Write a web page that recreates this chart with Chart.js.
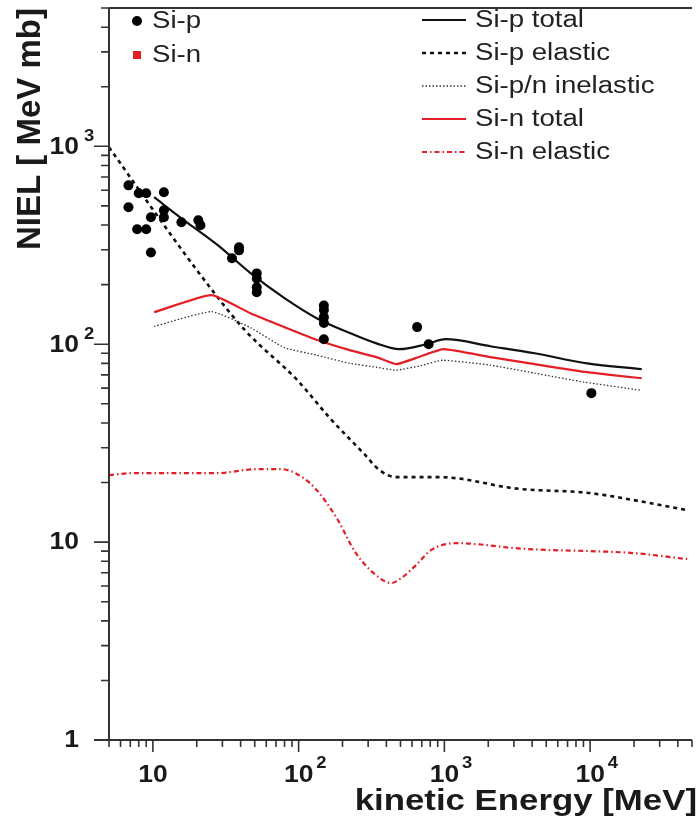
<!DOCTYPE html>
<html>
<head>
<meta charset="utf-8">
<script src="https://cdn.jsdelivr.net/npm/chart.js@4.4.1/dist/chart.umd.min.js"></script>
<style>
  html, body { margin: 0; padding: 0; background: #fff; }
</style>
</head>
<body>
<canvas id="niel" width="697" height="821"></canvas>
<script>
// Si-p measured points (energy in MeV, NIEL in MeV mb)
const siPEnergy = [6.8, 6.8, 8.0, 9.0, 7.8, 9.0, 9.7, 9.7, 11.9, 11.9, 11.9, 15.7, 20.5, 21.2, 34.9, 39, 39,
                   51.6, 51.6, 51.6, 51.6, 149, 149, 149, 149, 149, 650, 780, 10200];
const siPNiel = [635, 492, 579, 579, 381, 381, 438, 291, 586, 475, 438, 413, 423, 399, 272, 309, 298,
                 228, 215, 194, 183, 157, 149, 137, 128, 106, 122, 100, 56.6];
// Si-n measured points (only shown in the legend)
const siNEnergy = [];
const siNNiel = [];

// Si-p total
const pTotalE = [10.2, 15.7, 28, 47, 80, 134, 224, 342, 490, 750, 1020, 2070, 4170, 9550, 22600];
const pTotalNiel = [553, 433, 316, 228, 171, 135, 114, 101, 94.4, 100, 106, 97.7, 90, 80, 74.8];
// Si-p elastic
const pElasticE = [5, 19.6, 42.7, 98, 164, 279, 359, 468, 916, 1233, 3006, 9860, 24000, 46300];
const pElasticNiel = [988, 242, 118, 65.8, 42.3, 28.1, 23.1, 21.3, 21.3, 21.0, 18.7, 17.7, 15.9, 14.5];
// Si-p/n inelastic
const inelE = [10.2, 25.2, 47, 80, 134, 224, 342, 468, 690, 975, 2070, 4170, 9120, 22200];
const inelNiel = [123, 146, 121, 96, 88, 80, 76.5, 73.9, 78, 83, 78.3, 71.4, 64.3, 58.6];
// Si-n total
const nTotalE = [10.2, 25.2, 47, 80, 134, 224, 342, 468, 690, 990, 2070, 4170, 9550, 22600];
const nTotalNiel = [145, 177, 143, 122, 105, 93.3, 86, 79.3, 87, 94.4, 86, 79.3, 72.2, 67.3];
// Si-n elastic
const nElasticE = [5, 7.3, 14.1, 27.2, 52.5, 75.2, 95, 128, 183, 247, 353, 432, 506, 639, 809,
                   1233, 1660, 3006, 5445, 9860, 19900, 46300];
const nElasticNiel = [21.8, 22.3, 22.3, 22.3, 23.4, 23.4, 22.3, 18.9, 13.2, 8.8, 6.66, 6.21, 6.58, 7.65, 9.11,
                      9.88, 9.77, 9.33, 9.11, 9.01, 8.8, 8.21];

// axis labels
const xTickValues = [10, 100, 1000, 10000];
const xTickBase = ['10', '10', '10', '10'];
const xTickExp = ['', '2', '3', '4'];
const yTickValues = [1, 10, 100, 1000];
const yTickBase = ['1', '10', '10', '10'];
const yTickExp = ['', '', '2', '3'];

const RED = '#e41e26';
const FONT = "'Liberation Sans', Arial, sans-serif";

const toXY = (xs, ys) => xs.map((x, i) => ({ x: x, y: ys[i] }));

function stretchText(ctx, text, x, y, align, sx) {
    ctx.save();
    ctx.translate(x, y);
    ctx.scale(sx, 1);
    ctx.textAlign = align;
    ctx.fillText(text, 0, 0);
    ctx.restore();
    return ctx.measureText(text).width * sx;
}

// ROOT-like frame, ticks, labels and legend
const rootStyle = {
    id: 'rootStyle',
    afterDraw(chart) {
        const ctx = chart.ctx;
        const a = chart.chartArea;
        const xs = chart.scales.x, ys = chart.scales.y;
        ctx.save();
        ctx.strokeStyle = '#333';
        ctx.lineWidth = 2;
        ctx.beginPath();
        ctx.moveTo(a.left, a.top); ctx.lineTo(a.right, a.top);
        ctx.moveTo(a.left, a.top); ctx.lineTo(a.left, a.bottom);
        ctx.moveTo(a.left - 15, a.bottom); ctx.lineTo(a.right, a.bottom);
        ctx.stroke();

        // tick marks
        ctx.lineWidth = 1.6;
        ctx.beginPath();
        for (let d = 0; d <= 4; d++) {
            for (let m = 1; m <= 9; m++) {
                const v = m * Math.pow(10, d);
                if (v >= xs.min && v <= xs.max) {
                    const px = xs.getPixelForValue(v);
                    ctx.moveTo(px, a.bottom);
                    ctx.lineTo(px, a.bottom + (m === 1 ? 12 : 7));
                }
                if (v >= ys.min && v <= ys.max) {
                    const py = ys.getPixelForValue(v);
                    ctx.moveTo(a.left, py);
                    ctx.lineTo(a.left - (m === 1 ? 15 : 8), py);
                }
            }
        }
        ctx.stroke();

        // tick labels with exponents
        ctx.fillStyle = '#1a1a1a';
        ctx.textBaseline = 'middle';
        xTickValues.forEach((v, i) => {
            const px = xs.getPixelForValue(v);
            ctx.font = 'bold 23px ' + FONT;
            const w = stretchText(ctx, xTickBase[i], px, a.bottom + 36, 'center', 1.15);
            if (xTickExp[i]) {
                ctx.font = 'bold 16px ' + FONT;
                stretchText(ctx, xTickExp[i], px + w / 2 + 3, a.bottom + 24, 'left', 1.15);
            }
        });
        yTickValues.forEach((v, i) => {
            const py = ys.getPixelForValue(v);
            ctx.font = 'bold 23px ' + FONT;
            stretchText(ctx, yTickBase[i], 79, py + 1, 'right', 1.15);
            if (yTickExp[i]) {
                ctx.font = 'bold 16px ' + FONT;
                stretchText(ctx, yTickExp[i], 84, py - 10, 'left', 1.15);
            }
        });

        // axis titles
        ctx.textBaseline = 'alphabetic';
        ctx.font = 'bold 29px ' + FONT;
        stretchText(ctx, 'kinetic Energy [MeV]', chart.width, 810, 'right', 1.2);
        ctx.save();
        ctx.translate(40, 250);
        ctx.rotate(-Math.PI / 2);
        ctx.font = 'bold 33px ' + FONT;
        ctx.textAlign = 'left';
        ctx.fillText('NIEL [ MeV mb]', 0, 0);
        ctx.restore();

        // legend
        ctx.textBaseline = 'middle';
        ctx.font = '23px ' + FONT;
        ctx.fillStyle = '#222';
        const sets = chart.data.datasets;
        let rowL = 0, rowR = 0;
        sets.forEach(ds => {
            if (ds.showLine === false) {
                const cy = 21 + rowL * 34;
                ctx.fillStyle = ds.pointBackgroundColor;
                ctx.beginPath();
                if (ds.pointStyle === 'rect') ctx.rect(133, cy - 4, 8, 8);
                else ctx.arc(137, cy, 5, 0, Math.PI * 2);
                ctx.fill();
                ctx.fillStyle = '#222';
                stretchText(ctx, ds.label, 152, cy + 1, 'left', 1.2);
                rowL++;
            }
        });
        legendOrder.forEach(label => {
            const ds = sets.find(s => s.label === label);
            const cy = 20 + rowR * 33;
            ctx.strokeStyle = ds.borderColor;
            ctx.lineWidth = ds.borderWidth;
            ctx.setLineDash(ds.borderDash || []);
            ctx.beginPath();
            ctx.moveTo(422, cy); ctx.lineTo(466, cy);
            ctx.stroke();
            ctx.setLineDash([]);
            stretchText(ctx, ds.label, 475, cy + 1, 'left', 1.2);
            rowR++;
        });
        ctx.restore();
    }
};

const legendOrder = ['Si-p total', 'Si-p elastic', 'Si-p/n inelastic', 'Si-n total', 'Si-n elastic'];

new Chart(document.getElementById('niel'), {
    type: 'line',
    data: {
        datasets: [
            { label: 'Si-p', data: toXY(siPEnergy, siPNiel), showLine: false, pointStyle: 'circle',
              pointRadius: 5, pointBorderWidth: 0, pointBackgroundColor: '#000', borderColor: '#000' },
            { label: 'Si-n', data: toXY(siNEnergy, siNNiel), showLine: false, pointStyle: 'rect',
              pointRadius: 4, pointBorderWidth: 0, pointBackgroundColor: RED, borderColor: RED },
            { label: 'Si-p total', data: toXY(pTotalE, pTotalNiel), borderColor: '#111', borderWidth: 2.2,
              pointRadius: 0, cubicInterpolationMode: 'monotone' },
            { label: 'Si-n total', data: toXY(nTotalE, nTotalNiel), borderColor: RED, borderWidth: 2.2,
              pointRadius: 0, tension: 0.15 },
            { label: 'Si-p/n inelastic', data: toXY(inelE, inelNiel), borderColor: '#333', borderWidth: 1.3,
              borderDash: [1.5, 2], pointRadius: 0, tension: 0.15 },
            { label: 'Si-p elastic', data: toXY(pElasticE, pElasticNiel), borderColor: '#111', borderWidth: 2.6,
              borderDash: [4, 4], pointRadius: 0, cubicInterpolationMode: 'monotone' },
            { label: 'Si-n elastic', data: toXY(nElasticE, nElasticNiel), borderColor: RED, borderWidth: 2.2,
              borderDash: [5, 3, 1.5, 3], pointRadius: 0, cubicInterpolationMode: 'monotone' }
        ]
    },
    options: {
        responsive: false,
        animation: false,
        devicePixelRatio: 1,
        layout: { padding: { left: 109, top: 8, right: 0, bottom: 81 } },
        plugins: { legend: { display: false }, tooltip: { enabled: false } },
        scales: {
            x: { type: 'logarithmic', min: 5, max: 50000, display: false },
            y: { type: 'logarithmic', min: 1, max: 5000, display: false }
        }
    },
    plugins: [rootStyle]
});
</script>
</body>
</html>
